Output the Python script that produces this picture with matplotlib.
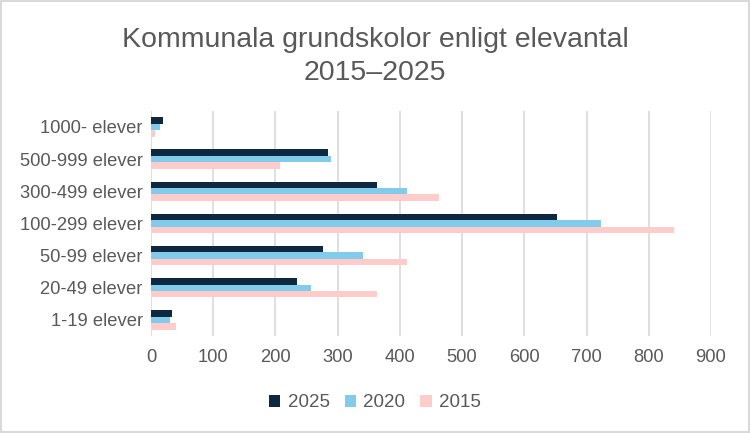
import numpy as np
import matplotlib.pyplot as plt
from matplotlib.patches import Rectangle

categories = ["1000- elever", "500-999 elever", "300-499 elever", "100-299 elever",
              "50-99 elever", "20-49 elever", "1-19 elever"]
years = ["2025", "2020", "2015"]
v2025 = [20, 285, 363, 653, 277, 234, 34]
v2020 = [15, 289, 411, 724, 340, 257, 31]
v2015 = [7, 208, 463, 841, 411, 363, 41]
colors = ["#0E2841", "#83CBEB", "#FFCCCC"]

grey = "#595959"
plt.rcParams['font.family'] = ['Liberation Sans', 'DejaVu Sans']

fig = plt.figure(figsize=(7.5, 4.33), dpi=100)
ax = fig.add_axes([0.2013, 0.224, 0.7467, 0.52])

y = np.arange(len(categories))
h = 0.2
for i, (vals, lab) in enumerate(zip([v2025, v2020, v2015], years)):
    ax.barh(y + (i - 1) * h, vals, height=h, color=colors[i], label=lab, zorder=3)

ax.set_xlim(0, 900)
ax.set_ylim(len(categories) - 0.5, -0.5)
ax.set_yticks(y)
ax.set_yticklabels(categories)
ax.set_xticks(range(0, 901, 100))
ax.grid(axis='x', color="#D9D9D9", linewidth=1.2, zorder=0)
for s in ax.spines.values():
    s.set_visible(False)
ax.tick_params(length=0, labelsize=13.2, colors=grey, pad=6)
ax.tick_params(axis='x', pad=9)

fig.text(0.5, 0.87, "Kommunala grundskolor enligt elevantal\n2015\u20132025",
         ha='center', va='center', fontsize=20.5, color=grey, linespacing=1.35)

leg = fig.legend(loc='center', bbox_to_anchor=(0.5, 0.07), ncol=3, frameon=False,
                 fontsize=13.5, handlelength=0.6, handleheight=0.6, columnspacing=0.8,
                 handletextpad=0.4)
for t in leg.get_texts():
    t.set_color(grey)

fig.patches.append(Rectangle((0.001, 0.002), 0.997, 0.996, transform=fig.transFigure,
                             fill=False, edgecolor="#D9D9D9", linewidth=1.5))

fig.savefig("out.png", dpi=100)
